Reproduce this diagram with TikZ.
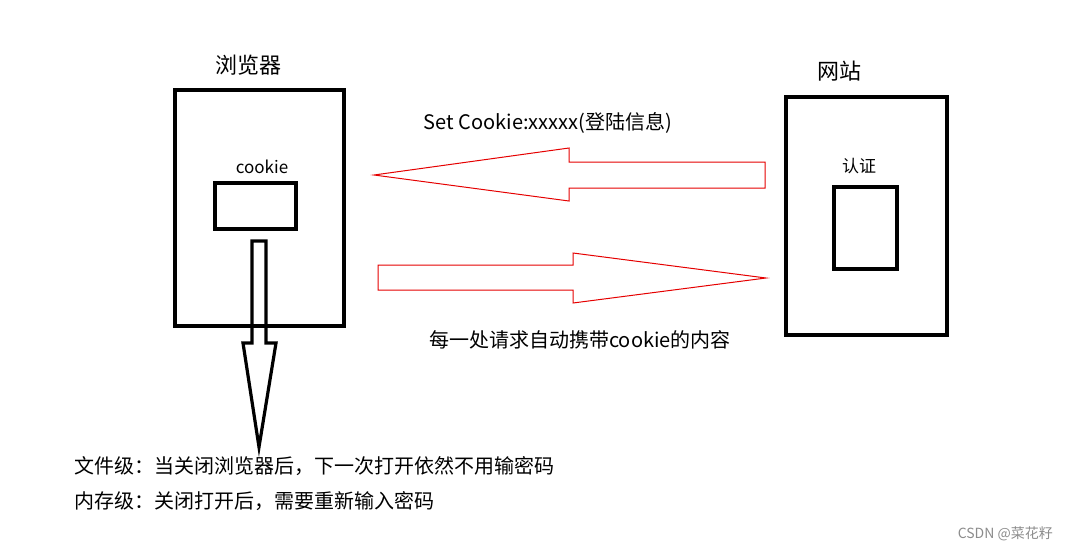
\documentclass[tikz,border=0pt]{standalone}
\usepackage{fontspec}
\setmainfont{Noto Sans CJK SC}
\begin{document}
\begin{tikzpicture}
[
x=1pt, y=-1pt,
Outerbox/.style={rectangle, draw=black, line width=4.8pt, inner sep=0pt},
Innerbox/.style={rectangle, draw=black, line width=3.2pt, inner sep=0pt},
Title/.style={inner sep=0pt, font=\fontsize{22}{26}\selectfont},
Small/.style={inner sep=0pt, font=\fontsize{17}{20}\selectfont},
Label/.style={inner sep=0pt, font=\fontsize{20}{24}\selectfont},
Mark/.style={inner sep=0pt, text=black!45, font=\fontsize{14}{16}\selectfont},
Redarrow/.style={draw=red!90!black, line width=1pt, line join=miter},
Downarrow/.style={draw=black, line width=3.2pt, line join=miter}
]

\useasboundingbox (0,0) rectangle (1069,550);

% browser side
\node[Outerbox, minimum width=169pt, minimum height=236pt] (Browser) at (259.5,208) {};
\node[Title] (BrowserTitle) at (248,65) {浏览器};
\node[Innerbox, minimum width=81pt, minimum height=46pt] (Cookie) at (255.5,206) {};
\node[Small] (CookieText) at (262,167) {cookie};

% web site side
\node[Outerbox, minimum width=161pt, minimum height=238pt] (Site) at (866.5,216) {};
\node[Title] (SiteTitle) at (839,71) {网站};
\node[Innerbox, minimum width=63pt, minimum height=82pt] (Auth) at (865.5,228) {};
\node[Small] (AuthText) at (859,166) {认证};

% arrows
\draw[Redarrow] (765,162) -- (569,162) -- (569,148) -- (374,175) -- (569,201) -- (569,188) -- (765,188) -- cycle;
\draw[Redarrow] (378,265) -- (573,265) -- (573,253) -- (766,278) -- (573,303) -- (573,290) -- (378,290) -- cycle;
\draw[Downarrow] (252,241) -- (266,241) -- (266,343) -- (276,343) -- (259,447) -- (243,343) -- (252,343) -- cycle;

% texts
\node[Label] (SetText) at (548,123) {Set Cookie:xxxxx(登陆信息)};
\node[Label] (SendText) at (580,340) {每一处请求自动携带cookie的内容};
\node[Label, anchor=west] (FileText) at (74,466) {文件级：当关闭浏览器后，下一次打开依然不用输密码};
\node[Label, anchor=west] (MemText) at (74,501) {内存级：关闭打开后，需要重新输入密码};
\node[Mark, anchor=east] (Mark) at (1053,534) {CSDN @菜花籽};
\end{tikzpicture}
\end{document}
